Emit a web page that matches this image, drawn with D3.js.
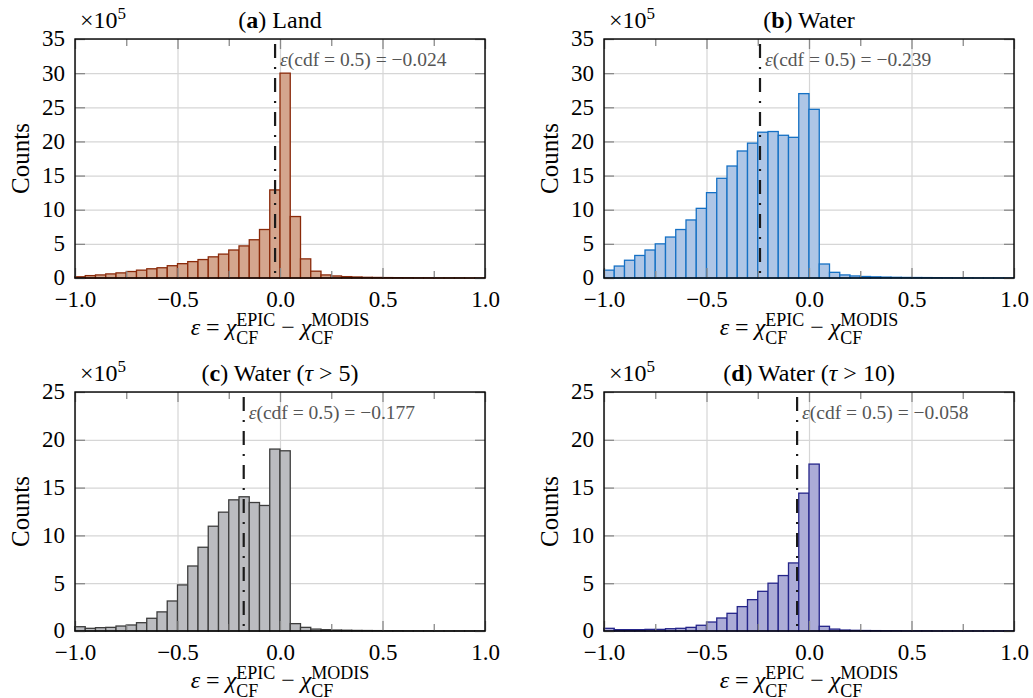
<!DOCTYPE html>
<html>
<head>
<meta charset="utf-8">
<script src="https://cdn.jsdelivr.net/npm/d3@7"></script>
<style>
  body { margin: 0; background: #fff; }
  svg { font-family: "Liberation Serif", "DejaVu Serif", serif; }
  .mathpiece { white-space: pre; }
</style>
</head>
<body>
<svg id="chart" width="1033" height="698"></svg>
<script>
// Histogram bins (eps) and counts (x 10^5)
var binEdges = [-1.0, -0.95, -0.9, -0.85, -0.8, -0.75, -0.7, -0.65, -0.6, -0.55,
  -0.5, -0.45, -0.4, -0.35, -0.3, -0.25, -0.2, -0.15, -0.1, -0.05,
  0.0, 0.05, 0.1, 0.15, 0.2, 0.25, 0.3, 0.35, 0.4, 0.45,
  0.5, 0.55, 0.6, 0.65, 0.7, 0.75, 0.8, 0.85, 0.9, 0.95, 1.0];

var landCounts = [0.18, 0.35, 0.45, 0.6, 0.75, 0.95, 1.15, 1.35, 1.5, 1.8,
  2.1, 2.4, 2.7, 3.1, 3.5, 4.1, 4.7, 5.6, 7.1, 12.9,
  30.0, 9.0, 2.8, 1.0, 0.45, 0.3, 0.2, 0.15, 0.1, 0.08,
  0.06, 0.05, 0.04, 0.03, 0.03, 0.02, 0.02, 0.02, 0.01, 0.01];

var waterCounts = [1.15, 1.75, 2.6, 3.3, 4.1, 5.0, 6.0, 7.1, 8.5, 10.2,
  12.5, 14.6, 16.4, 18.6, 19.75, 21.35, 21.45, 20.9, 20.6, 27.0,
  24.7, 2.05, 0.83, 0.45, 0.3, 0.22, 0.17, 0.13, 0.1, 0.08,
  0.07, 0.06, 0.05, 0.04, 0.03, 0.03, 0.02, 0.02, 0.02, 0.01];

var tau5Counts = [0.45, 0.28, 0.35, 0.38, 0.52, 0.63, 0.87, 1.33, 2.0, 3.14,
  4.82, 6.8, 8.76, 10.96, 12.43, 13.72, 14.04, 13.44, 13.13, 19.03,
  18.85, 0.77, 0.38, 0.2, 0.14, 0.1, 0.08, 0.06, 0.05, 0.04,
  0.03, 0.03, 0.02, 0.02, 0.02, 0.01, 0.01, 0.01, 0.01, 0.01];

var tau10Counts = [0.28, 0.14, 0.14, 0.14, 0.17, 0.17, 0.24, 0.28, 0.38, 0.6,
  0.94, 1.36, 1.85, 2.55, 3.28, 4.15, 5.0, 5.8, 7.12, 14.42,
  17.46, 0.49, 0.2, 0.1, 0.07, 0.05, 0.04, 0.03, 0.03, 0.02,
  0.02, 0.02, 0.01, 0.01, 0.01, 0.01, 0.01, 0.01, 0.01, 0.01];

var medians = [-0.024, -0.239, -0.177, -0.058];
var medianLabels = ["−0.024", "−0.239", "−0.177", "−0.058"];

var xTicks = [-1, -0.5, 0, 0.5, 1];
var xMinorTicks = [-0.75, -0.25, 0.25, 0.75];
var xTickLabels = ["−1.0", "−0.5", "0.0", "0.5", "1.0"];
var yTicksTall = [0, 5, 10, 15, 20, 25, 30, 35];
var yTicksShort = [0, 5, 10, 15, 20, 25];

var panelLetters = ["a", "b", "c", "d"];
var panelNames = ["Land", "Water", "Water", "Water"];
var panelTau = [null, null, "5", "10"];

// layout + styling
var panelW = 410, panelH = 239;
var panels = [
  { counts: landCounts,  yTicks: yTicksTall,  left: 75,  top: 39,  fill: "#d4a68e", stroke: "#8a2a0a" },
  { counts: waterCounts, yTicks: yTicksTall,  left: 604, top: 39,  fill: "#aec6e6", stroke: "#1570c4" },
  { counts: tau5Counts,  yTicks: yTicksShort, left: 75,  top: 392, fill: "#bbbcc0", stroke: "#3d3d3d" },
  { counts: tau10Counts, yTicks: yTicksShort, left: 604, top: 392, fill: "#acacd7", stroke: "#25258a" }
];

var svg = d3.select("#chart");

panels.forEach(function(p, k) {
  var g = svg.append("g").attr("transform", "translate(" + p.left + "," + p.top + ")");

  var x = d3.scaleLinear().domain([-1, 1]).range([0, panelW]);
  var yMax = p.yTicks[p.yTicks.length - 1];
  var y = d3.scaleLinear().domain([0, yMax]).range([panelH, 0]);

  // grid
  g.append("g")
    .attr("transform", "translate(0," + panelH + ")")
    .call(d3.axisBottom(x).tickValues(xTicks).tickSize(-panelH).tickFormat(""))
    .call(function(a) { a.select(".domain").remove(); })
    .selectAll("line").attr("stroke", "#d6d6d6").attr("stroke-width", 1.2);
  g.append("g")
    .call(d3.axisLeft(y).tickValues(p.yTicks).tickSize(-panelW).tickFormat(""))
    .call(function(a) { a.select(".domain").remove(); })
    .selectAll("line").attr("stroke", "#d6d6d6").attr("stroke-width", 1.2);

  // bars
  var bins = p.counts.map(function(c, i) { return { x0: binEdges[i], x1: binEdges[i + 1], c: c }; });
  g.append("g").selectAll("rect")
    .data(bins)
    .enter().append("rect")
    .attr("x", function(d) { return x(d.x0); })
    .attr("width", function(d) { return x(d.x1) - x(d.x0); })
    .attr("y", function(d) { return y(d.c); })
    .attr("height", function(d) { return y(0) - y(d.c); })
    .attr("fill", p.fill)
    .attr("stroke", p.stroke)
    .attr("stroke-width", 1.3);

  // median line
  g.append("line")
    .attr("x1", x(medians[k])).attr("x2", x(medians[k]))
    .attr("y1", y(yMax) + 5).attr("y2", y(0))
    .attr("stroke", "#1a1a1a")
    .attr("stroke-width", 2.2)
    .attr("stroke-dasharray", "14,9,2,9");

  // inner tick marks
  function tickStyle(a) {
    a.select(".domain").remove();
    a.selectAll("line").attr("stroke", "#8a8a8a").attr("stroke-width", 1.3);
  }
  g.append("g").attr("transform", "translate(0," + panelH + ")")
    .call(d3.axisBottom(x).tickValues(xTicks).tickSize(-10).tickFormat("")).call(tickStyle);
  g.append("g")
    .call(d3.axisTop(x).tickValues(xTicks).tickSize(-10).tickFormat("")).call(tickStyle);
  g.append("g").attr("transform", "translate(0," + panelH + ")")
    .call(d3.axisBottom(x).tickValues(xMinorTicks).tickSize(-7).tickFormat("")).call(tickStyle);
  g.append("g")
    .call(d3.axisTop(x).tickValues(xMinorTicks).tickSize(-7).tickFormat("")).call(tickStyle);
  g.append("g")
    .call(d3.axisLeft(y).tickValues(p.yTicks).tickSize(-10).tickFormat("")).call(tickStyle);
  g.append("g").attr("transform", "translate(" + panelW + ",0)")
    .call(d3.axisRight(y).tickValues(p.yTicks).tickSize(-10).tickFormat("")).call(tickStyle);

  // frame
  g.append("rect")
    .attr("width", panelW).attr("height", panelH)
    .attr("fill", "none").attr("stroke", "#000").attr("stroke-width", 1.4);

  // tick labels
  var xa = g.append("g").attr("transform", "translate(0," + panelH + ")")
    .call(d3.axisBottom(x).tickValues(xTicks).tickSize(0).tickPadding(13)
      .tickFormat(function(d, i) { return xTickLabels[i]; }));
  xa.select(".domain").remove();
  xa.selectAll("text").attr("font-size", 23).attr("fill", "#000")
    .attr("font-family", "Liberation Serif, serif");

  var ya = g.append("g")
    .call(d3.axisLeft(y).tickValues(p.yTicks).tickSize(0).tickPadding(10));
  ya.select(".domain").remove();
  ya.selectAll("text").attr("font-size", 23).attr("fill", "#000")
    .attr("font-family", "Liberation Serif, serif")
    .attr("dy", "0.3em");

  // median label
  var ml = g.append("text")
    .attr("x", x(medians[k]) + 5)
    .attr("y", 27)
    .attr("font-size", 19.5)
    .attr("fill", "#555");
  ml.append("tspan").attr("font-style", "italic").text("ε");
  ml.append("tspan").text("(cdf = 0.5) = " + medianLabels[k]);

  // title
  var t = g.append("text")
    .attr("x", panelW / 2).attr("y", -11)
    .attr("text-anchor", "middle")
    .attr("font-size", 24);
  t.append("tspan").text("(");
  t.append("tspan").attr("font-weight", "bold").text(panelLetters[k]);
  t.append("tspan").text(") " + panelNames[k]);
  if (panelTau[k]) {
    t.append("tspan").text(" (");
    t.append("tspan").attr("font-style", "italic").text("τ");
    t.append("tspan").text(" > " + panelTau[k] + ")");
  }

  // x10^5 multiplier
  var m = g.append("text").attr("x", 5).attr("y", -11).attr("font-size", 24);
  m.append("tspan").text("×10");
  m.append("tspan").attr("font-size", 17).attr("dy", -9).text("5");

  // y label
  g.append("text")
    .attr("transform", "translate(-46," + panelH / 2 + ") rotate(-90)")
    .attr("text-anchor", "middle")
    .attr("font-size", 25)
    .text("Counts");

  // x label: eps = chi_CF^EPIC - chi_CF^MODIS
  var lab = g.append("g");
  var cursor = 0, base = panelH + 57;
  function piece(txt, size, italic, dy) {
    var el = lab.append("text")
      .attr("class", "mathpiece")
      .attr("x", cursor).attr("y", base + (dy || 0))
      .attr("font-size", size)
      .attr("font-style", italic ? "italic" : "normal")
      .text(txt);
    return el.node().getComputedTextLength();
  }
  function supSub(sup, sub) {
    var w1 = piece(sup, 18, false, -9);
    var w2 = piece(sub, 18, false, 9);
    cursor += Math.max(w1, w2);
  }
  cursor += piece("ε", 24, true);
  cursor += piece(" = ", 24, false);
  cursor += piece("χ", 24, true);
  supSub("EPIC", "CF");
  cursor += piece(" − ", 24, false);
  cursor += piece("χ", 24, true);
  supSub("MODIS", "CF");
  lab.attr("transform", "translate(" + (panelW / 2 - cursor / 2) + ",0)");
});
</script>
</body>
</html>
